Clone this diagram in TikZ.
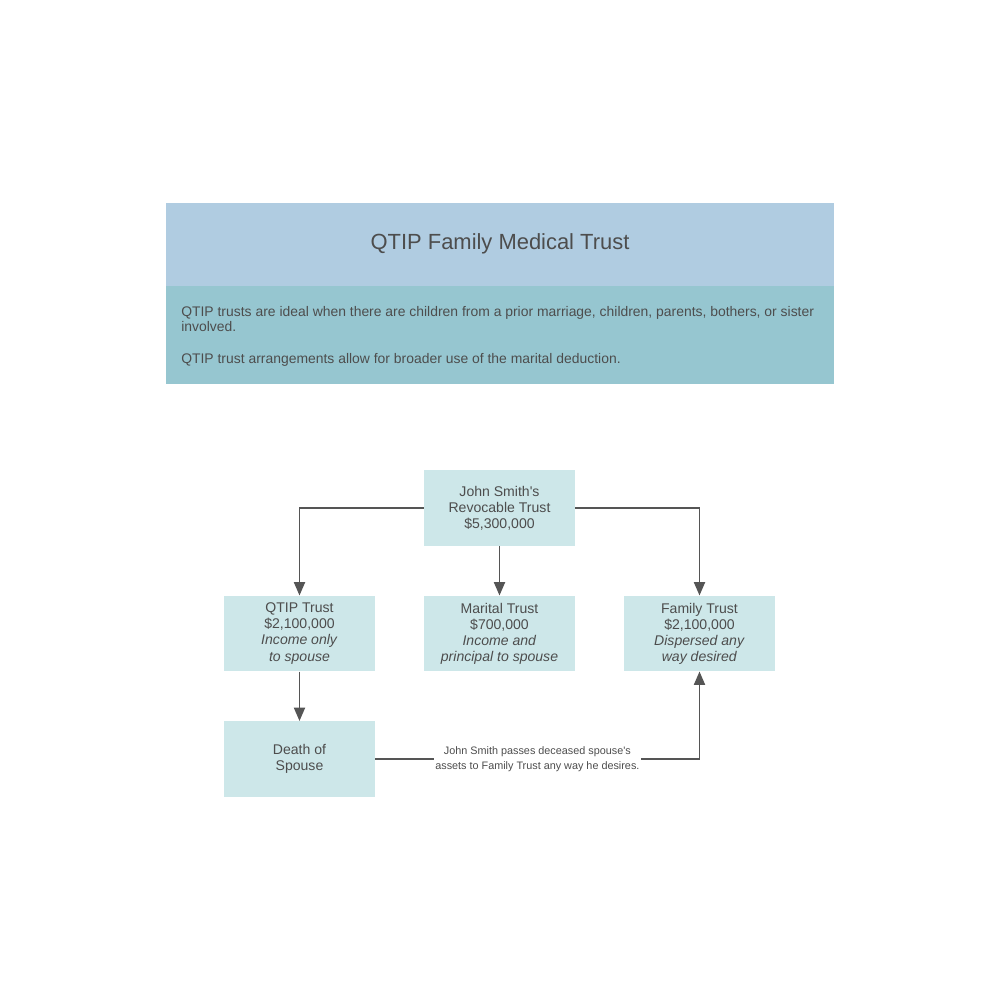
\documentclass[tikz,border=0pt]{standalone}
\usepackage{fontspec}
\setmainfont{Liberation Sans}
\usetikzlibrary{arrows.meta}
\definecolor{titleband}{HTML}{B0CCE1}
\definecolor{bodyband}{HTML}{96C6D0}
\definecolor{boxfill}{HTML}{CDE7E9}
\definecolor{inkgray}{HTML}{4D4D4D}
\definecolor{linegray}{HTML}{555555}
\begin{document}
\begin{tikzpicture}
  [x=0.25mm,y=-0.25mm,every node/.style={text=inkgray},
   trust/.style={rectangle,fill=boxfill,minimum width=37.75mm,minimum height=18.9mm,
     inner sep=0pt,align=center,font=\fontsize{10}{11.4}\selectfont},
   link/.style={draw=linegray,line width=0.9pt,-{Triangle[width=8pt,length=9.5pt]}}]
\fill[white] (0,0) rectangle (1000,1000);
\useasboundingbox (0,0) rectangle (1000,1000);
% Cabecera
  \fill[titleband] (166,203) rectangle (834,286);
  \fill[bodyband]  (166,286) rectangle (834,384);
  \node (title) at (500,244) {\fontsize{15.6}{18}\selectfont QTIP Family Medical Trust};
  \node (info1) [anchor=north west,align=left,inner sep=0pt,font=\fontsize{9.9}{11}\selectfont] at (181,306)
    {QTIP trusts are ideal when there are children from a prior marriage, children, parents, bothers, or sister\\involved.};
  \node (info2) [anchor=base west,inner sep=0pt,font=\fontsize{9.9}{11}\selectfont] at (181,363.5)
    {QTIP trust arrangements allow for broader use of the marital deduction.};

% Fideicomisos
  \node[trust] (rev)   at (499.5,508)   {John Smith\textquotesingle s\\Revocable Trust\\\$5,300,000};
  \node[trust] (qtip)  at (299.5,633.5) {QTIP Trust\\\$2,100,000\\\textit{Income only}\\\textit{to spouse}};
  \node[trust] (mar)   at (499.5,633.5) {Marital Trust\\\$700,000\\\textit{Income and}\\\textit{principal to spouse}};
  \node[trust] (fam)   at (699.5,633.5) {Family Trust\\\$2,100,000\\\textit{Dispersed any}\\\textit{way desired}};
  \node[trust] (death) at (299.5,759)   {Death of\\Spouse};

  \draw[link] (rev.west) -| (qtip.north);
  \draw[link] (rev.south) -- (mar.north);
  \draw[link] (rev.east) -| (fam.north);
  \draw[link] (qtip.south) -- (death.north);
  \draw[link] (death.east) -| node[pos=0.25,fill=white,inner sep=1pt,align=center,
      font=\fontsize{7.7}{10.6}\selectfont] (note)
      {John Smith passes deceased spouse\textquotesingle s\\assets to Family Trust any way he desires.} (fam.south);
\end{tikzpicture}
\end{document}
